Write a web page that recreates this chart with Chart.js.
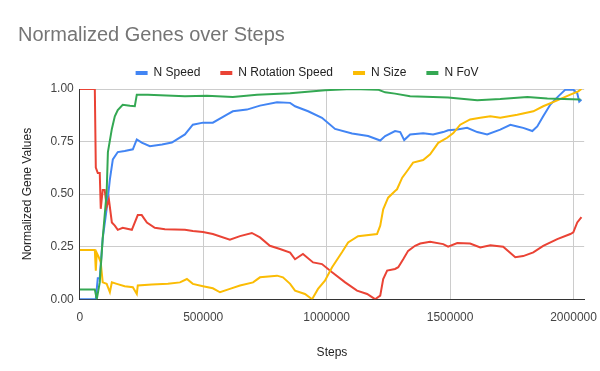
<!DOCTYPE html>
<html>
<head>
<meta charset="utf-8">
<script src="https://cdn.jsdelivr.net/npm/chart.js@4"></script>
<style>
  body { margin: 0; background: #fff; }
  canvas { display: block; }
</style>
</head>
<body>
<canvas id="grafico" width="600" height="371"></canvas>
<script>
// steps / values
const speedSteps = [0, 65000, 73000, 81000, 93000, 109000, 122000, 134000, 154000, 182000, 215000, 231000, 251000, 284000, 333000, 373000, 397000, 426000, 458000, 499000, 539000, 596000, 620000, 677000, 730000, 799000, 852000, 872000, 925000, 981000, 1034000, 1103000, 1168000, 1217000, 1237000, 1277000, 1298000, 1314000, 1338000, 1391000, 1431000, 1472000, 1492000, 1529000, 1569000, 1610000, 1650000, 1703000, 1744000, 1772000, 1796000, 1833000, 1853000, 1877000, 1906000, 1938000, 1967000, 1999000, 2015000, 2023000, 2032000];
const speedValues = [0, 0, 0.1, 0.1, 0.29, 0.43, 0.57, 0.665, 0.70, 0.705, 0.713, 0.76, 0.745, 0.728, 0.736, 0.745, 0.763, 0.784, 0.83, 0.84, 0.84, 0.878, 0.894, 0.902, 0.921, 0.937, 0.934, 0.918, 0.894, 0.863, 0.81, 0.788, 0.776, 0.755, 0.776, 0.8, 0.795, 0.757, 0.784, 0.79, 0.784, 0.795, 0.804, 0.807, 0.815, 0.795, 0.784, 0.807, 0.83, 0.822, 0.815, 0.8, 0.822, 0.87, 0.926, 0.965, 0.997, 0.997, 0.98, 0.94, 0.95];

const rotSteps = [0, 61000, 65000, 73000, 81000, 85000, 93000, 101000, 109000, 118000, 130000, 142000, 154000, 174000, 211000, 235000, 251000, 272000, 304000, 345000, 426000, 458000, 499000, 539000, 608000, 649000, 697000, 730000, 770000, 811000, 852000, 872000, 904000, 945000, 981000, 1022000, 1075000, 1123000, 1164000, 1196000, 1217000, 1229000, 1245000, 1277000, 1290000, 1310000, 1330000, 1358000, 1379000, 1419000, 1472000, 1492000, 1529000, 1581000, 1622000, 1663000, 1715000, 1764000, 1796000, 1837000, 1877000, 1934000, 1987000, 1999000, 2015000, 2032000];
const rotValues = [1, 1, 0.626, 0.60, 0.60, 0.43, 0.52, 0.52, 0.44, 0.475, 0.365, 0.35, 0.33, 0.34, 0.33, 0.40, 0.40, 0.365, 0.34, 0.333, 0.33, 0.325, 0.32, 0.31, 0.283, 0.30, 0.315, 0.294, 0.254, 0.239, 0.222, 0.19, 0.215, 0.175, 0.167, 0.128, 0.08, 0.041, 0.025, 0.0, 0.017, 0.096, 0.136, 0.144, 0.152, 0.19, 0.23, 0.254, 0.265, 0.273, 0.262, 0.25, 0.267, 0.265, 0.246, 0.257, 0.25, 0.2, 0.205, 0.223, 0.254, 0.286, 0.31, 0.318, 0.365, 0.39];

const sizeSteps = [0, 61000, 65000, 69000, 77000, 85000, 93000, 109000, 122000, 130000, 150000, 182000, 215000, 231000, 235000, 292000, 357000, 406000, 434000, 458000, 499000, 539000, 568000, 608000, 649000, 702000, 730000, 799000, 823000, 852000, 872000, 912000, 941000, 965000, 993000, 1022000, 1062000, 1087000, 1127000, 1204000, 1217000, 1229000, 1249000, 1277000, 1285000, 1306000, 1326000, 1350000, 1391000, 1419000, 1452000, 1488000, 1513000, 1541000, 1581000, 1622000, 1663000, 1703000, 1772000, 1837000, 1877000, 1934000, 1987000, 2019000, 2032000];
const sizeValues = [0.234, 0.234, 0.136, 0.22, 0.2, 0.175, 0.08, 0.073, 0.033, 0.08, 0.073, 0.062, 0.057, 0.025, 0.065, 0.07, 0.073, 0.08, 0.096, 0.073, 0.062, 0.052, 0.033, 0.049, 0.065, 0.08, 0.104, 0.112, 0.104, 0.073, 0.041, 0.025, 0.0, 0.049, 0.088, 0.152, 0.223, 0.27, 0.30, 0.31, 0.35, 0.428, 0.483, 0.515, 0.523, 0.578, 0.61, 0.65, 0.662, 0.689, 0.744, 0.768, 0.79, 0.83, 0.855, 0.863, 0.87, 0.863, 0.878, 0.894, 0.918, 0.946, 0.973, 0.989, 1.0];

const fovSteps = [0, 61000, 69000, 81000, 93000, 109000, 114000, 130000, 142000, 154000, 174000, 203000, 223000, 231000, 276000, 426000, 515000, 620000, 718000, 852000, 993000, 1103000, 1208000, 1237000, 1277000, 1338000, 1492000, 1610000, 1703000, 1813000, 1894000, 2028000];
const fovValues = [0.046, 0.046, 0.0, 0.08, 0.29, 0.51, 0.70, 0.81, 0.87, 0.90, 0.925, 0.92, 0.918, 0.973, 0.973, 0.965, 0.968, 0.962, 0.973, 0.98, 0.994, 1.0, 0.997, 0.984, 0.978, 0.965, 0.96, 0.946, 0.952, 0.962, 0.955, 0.95];

const yTicks = [0, 0.25, 0.5, 0.75, 1];
const xTicks = [0, 500000, 1000000, 1500000, 2000000];

const fonte = 'Arial, "Liberation Sans", sans-serif';

function pontos(steps, values) {
    return steps.map((s, i) => ({ x: s, y: values[i] }));
}

function serie(label, steps, values, cor, ordem) {
    return {
        label: label,
        data: pontos(steps, values),
        borderColor: cor,
        backgroundColor: cor,
        borderWidth: 2,
        pointRadius: 0,
        tension: 0,
        order: ordem
    };
}

const ctx = document.getElementById('grafico').getContext('2d');

const chart = new Chart(ctx, {
    type: 'line',
    data: {
        datasets: [
            serie('N Speed', speedSteps, speedValues, '#4285F4', 3),
            serie('N Rotation Speed', rotSteps, rotValues, '#EA4335', 2),
            serie('N Size', sizeSteps, sizeValues, '#FBBC04', 1),
            serie('N FoV', fovSteps, fovValues, '#34A853', 0)
        ]
    },
    options: {
        responsive: false,
        animation: false,
        layout: { padding: { left: 18, right: 4, top: 0, bottom: 0 } },
        scales: {
            x: {
                type: 'linear',
                min: 0,
                max: 2043000,
                afterBuildTicks: scale => {
                    scale.ticks = xTicks.map(v => ({ value: v }));
                },
                ticks: {
                    color: '#444',
                    font: { family: fonte, size: 12 },
                    padding: 3,
                    maxRotation: 0,
                    callback: v => String(v)
                },
                // marcas invisiveis so para afastar os rotulos do eixo
                grid: { color: '#cccccc', drawTicks: true, tickLength: 8, tickColor: 'rgba(0,0,0,0)' },
                border: { color: '#333', width: 1 },
                title: {
                    display: true,
                    text: 'Steps',
                    color: '#222',
                    font: { family: fonte, size: 12 },
                    padding: { top: 18, bottom: 11 }
                }
            },
            y: {
                min: 0,
                max: 1,
                afterBuildTicks: scale => {
                    scale.ticks = yTicks.map(v => ({ value: v }));
                },
                ticks: {
                    color: '#444',
                    font: { family: fonte, size: 12 },
                    padding: 6,
                    callback: v => v.toFixed(2)
                },
                grid: { color: '#cccccc', drawTicks: false },
                border: { color: '#333', width: 1 },
                title: {
                    display: true,
                    text: 'Normalized Gene Values',
                    color: '#222',
                    font: { family: fonte, size: 12 },
                    padding: { top: 2, bottom: 10 }
                }
            }
        },
        plugins: {
            title: {
                display: true,
                text: 'Normalized Genes over Steps',
                align: 'start',
                color: '#757575',
                font: { family: fonte, size: 20, weight: 'normal' },
                padding: { top: 23, bottom: 0 }
            },
            legend: {
                labels: {
                    color: '#222',
                    font: { family: fonte, size: 12 },
                    boxWidth: 12,
                    boxHeight: 4,
                    padding: 20,
                    sort: (a, b) => a.datasetIndex - b.datasetIndex,
                    generateLabels: c => Chart.defaults.plugins.legend.labels.generateLabels(c)
                        .map(l => ({ ...l, lineWidth: 0 }))
                }
            },
            tooltip: { enabled: false }
        }
    }
});
</script>
</body>
</html>
